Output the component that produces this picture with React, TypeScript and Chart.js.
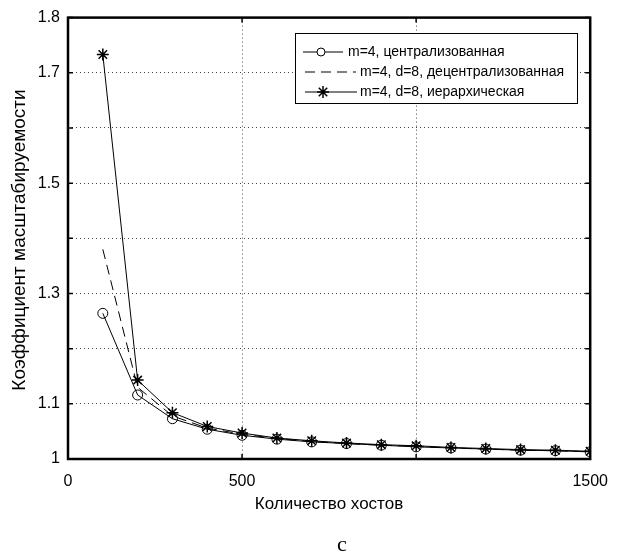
import React, { useEffect, useRef } from "react";
import { Chart, registerables } from "chart.js";

Chart.register(...registerables);

const hosts = [100, 200, 300, 400, 500, 600, 700, 800, 900, 1000, 1100, 1200, 1300, 1400, 1500];
const centralized = [1.264, 1.116, 1.073, 1.054, 1.043, 1.036, 1.031, 1.028, 1.025, 1.022, 1.02, 1.018, 1.016, 1.015, 1.013];
const decentralized = [1.38, 1.13, 1.078, 1.056, 1.045, 1.037, 1.032, 1.028, 1.025, 1.023, 1.02, 1.018, 1.016, 1.015, 1.013];
const hierarchical = [1.733, 1.143, 1.084, 1.059, 1.047, 1.038, 1.033, 1.029, 1.026, 1.024, 1.021, 1.019, 1.017, 1.016, 1.014];

const seriesNames = [
  "m=4, централизованная",
  "m=4, d=8, децентрализованная",
  "m=4, d=8, иерархическая",
];

const xTickValues = [0, 500, 1000, 1500];
const xTickLabels = ["0", "500", "", "1500"];
const yTickValues = [1, 1.1, 1.2, 1.3, 1.4, 1.5, 1.6, 1.7, 1.8];
const yTickLabels = ["1", "1.1", "", "1.3", "", "1.5", "", "1.7", "1.8"];

const xTitle = "Количество хостов";
const yTitle = "Коэффициент масштабируемости";
const caption = "c";

const SANS = "'Liberation Sans', Arial, sans-serif";

function drawStar(ctx: CanvasRenderingContext2D, x: number, y: number, r: number) {
  ctx.beginPath();
  for (let i = 0; i < 4; i++) {
    const a = (i * Math.PI) / 4;
    ctx.moveTo(x - r * Math.cos(a), y - r * Math.sin(a));
    ctx.lineTo(x + r * Math.cos(a), y + r * Math.sin(a));
  }
  ctx.stroke();
}

const decorPlugin = {
  id: "decor",
  afterDraw(chart: any) {
    const ctx: CanvasRenderingContext2D = chart.ctx;
    const { left, right, top, bottom } = chart.chartArea;
    const xs = chart.scales.x;
    const ys = chart.scales.y;
    ctx.save();
    // inside ticks
    ctx.strokeStyle = "#000";
    ctx.lineWidth = 1.5;
    ctx.setLineDash([]);
    xTickValues.forEach((v) => {
      const px = xs.getPixelForValue(v);
      ctx.beginPath();
      ctx.moveTo(px, bottom);
      ctx.lineTo(px, bottom - 5);
      ctx.moveTo(px, top);
      ctx.lineTo(px, top + 5);
      ctx.stroke();
    });
    yTickValues.forEach((v) => {
      const py = ys.getPixelForValue(v);
      ctx.beginPath();
      ctx.moveTo(left, py);
      ctx.lineTo(left + 5, py);
      ctx.moveTo(right, py);
      ctx.lineTo(right - 5, py);
      ctx.stroke();
    });
    // box
    ctx.lineWidth = 2.5;
    ctx.strokeRect(left, top, right - left, bottom - top);

    // legend
    const bx = 295.5, by = 33.5, bw = 282, bh = 70;
    ctx.fillStyle = "#fff";
    ctx.fillRect(bx, by, bw, bh);
    ctx.lineWidth = 1;
    ctx.strokeStyle = "#000";
    ctx.strokeRect(bx, by, bw, bh);
    ctx.font = `14px ${SANS}`;
    ctx.fillStyle = "#000";
    ctx.textBaseline = "middle";
    ctx.textAlign = "left";
    // row 1
    let ry = 52;
    ctx.beginPath();
    ctx.moveTo(303, ry);
    ctx.lineTo(343, ry);
    ctx.stroke();
    ctx.fillStyle = "#fff";
    ctx.beginPath();
    ctx.arc(321, ry, 4, 0, Math.PI * 2);
    ctx.fill();
    ctx.stroke();
    ctx.fillStyle = "#000";
    ctx.fillText(seriesNames[0], 348, ry);
    // row 2
    ry = 72;
    ctx.setLineDash([10, 6]);
    ctx.beginPath();
    ctx.moveTo(305, ry);
    ctx.lineTo(356, ry);
    ctx.stroke();
    ctx.setLineDash([]);
    ctx.fillText(seriesNames[1], 360, ry);
    // row 3
    ry = 92;
    ctx.beginPath();
    ctx.moveTo(305, ry);
    ctx.lineTo(357, ry);
    ctx.stroke();
    ctx.lineWidth = 1.5;
    drawStar(ctx, 323, ry, 6);
    ctx.lineWidth = 1;
    ctx.fillText(seriesNames[2], 360, ry);

    // axis titles
    ctx.textAlign = "center";
    ctx.font = `17px ${SANS}`;
    ctx.fillText(xTitle, 329, 504);
    ctx.save();
    ctx.translate(20, 240);
    ctx.rotate(-Math.PI / 2);
    ctx.font = `19px ${SANS}`;
    ctx.fillText(yTitle, 0, 0);
    ctx.restore();

    // caption
    ctx.font = "22px 'Liberation Serif', 'Times New Roman', serif";
    ctx.fillText(caption, 342, 545);
    ctx.restore();
  },
};

export default function App() {
  const ref = useRef<HTMLCanvasElement | null>(null);
  useEffect(() => {
    if (!ref.current) return;
    const mk = (ys: number[]) => hosts.map((x, i) => ({ x, y: ys[i] }));
    const chart = new Chart(ref.current, {
      type: "line",
      data: {
        datasets: [
          {
            label: seriesNames[0],
            data: mk(centralized),
            borderColor: "#000",
            borderWidth: 1,
            pointStyle: "circle",
            pointRadius: 5,
            pointBorderWidth: 1,
            pointBackgroundColor: "rgba(0,0,0,0)",
            pointBorderColor: "#000",
            tension: 0,
          },
          {
            label: seriesNames[1],
            data: mk(decentralized),
            borderColor: "#000",
            borderWidth: 1,
            borderDash: [10, 6],
            pointRadius: 0,
            tension: 0,
          },
          {
            label: seriesNames[2],
            data: mk(hierarchical),
            borderColor: "#000",
            borderWidth: 1,
            pointStyle: "star",
            pointRadius: 6,
            pointBorderWidth: 1.5,
            pointBorderColor: "#000",
            pointBackgroundColor: "#000",
            tension: 0,
          },
        ],
      },
      options: {
        animation: false,
        responsive: true,
        maintainAspectRatio: false,
        layout: { padding: { left: 0, top: 17, right: 24, bottom: 0 } },
        plugins: { legend: { display: false }, tooltip: { enabled: false } },
        scales: {
          x: {
            type: "linear",
            min: 0,
            max: 1500,
            afterBuildTicks: (s: any) => {
              s.ticks = xTickValues.map((v) => ({ value: v }));
            },
            afterFit: (s: any) => {
              s.height = 96;
            },
            ticks: {
              callback: (_v: any, i: number) => xTickLabels[i],
              color: "#000",
              font: { family: SANS, size: 16 },
              padding: 13,
              maxRotation: 0,
              autoSkip: false,
            },
            grid: { color: "#444", lineWidth: 1, drawTicks: false },
            border: { display: false, dash: [1, 3] },
          },
          y: {
            type: "linear",
            min: 1,
            max: 1.8,
            afterBuildTicks: (s: any) => {
              s.ticks = yTickValues.map((v) => ({ value: v }));
            },
            afterFit: (s: any) => {
              s.width = 68;
            },
            ticks: {
              callback: (_v: any, i: number) => yTickLabels[i],
              color: "#000",
              font: { family: SANS, size: 16 },
              padding: 8,
              autoSkip: false,
            },
            grid: { color: "#444", lineWidth: 1, drawTicks: false },
            border: { display: false, dash: [1, 3] },
          },
        },
      },
      plugins: [decorPlugin],
    });
    return () => chart.destroy();
  }, []);
  return (
    <div style={{ position: "absolute", left: 0, top: 0, width: 621, height: 555, background: "#fff" }}>
      <canvas ref={ref} />
    </div>
  );
}
